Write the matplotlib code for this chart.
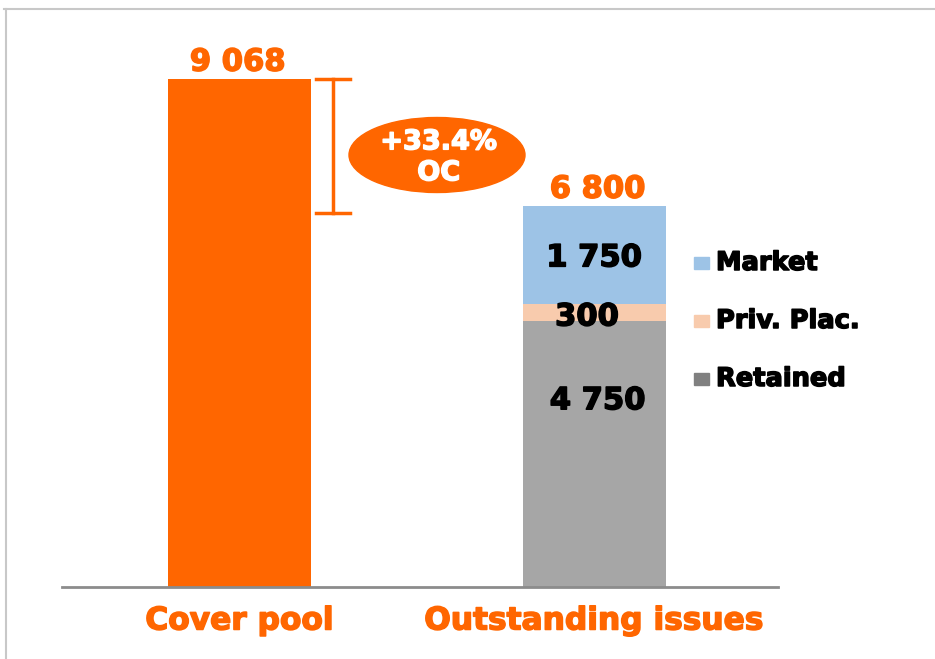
import matplotlib.pyplot as plt
import matplotlib.patheffects as pe
from matplotlib.patches import Ellipse, Rectangle
from matplotlib.lines import Line2D

plt.rcParams['font.family'] = ['DejaVu Sans']

# data
categories = ['Cover pool', 'Outstanding issues']
cover_pool = 9068
segments = ['Retained', 'Priv. Plac.', 'Market']
segment_values = [4750, 300, 1750]
oc_label = '+33.4%\nOC'

orange = '#FF6600'
seg_colors = ['#A6A6A6', '#F8CBAD', '#9DC3E6']
legend_colors = ['#808080', '#F8CBAD', '#9DC3E6']

W, H = 935, 659
fig = plt.figure(figsize=(W / 100, H / 100), dpi=100)


def heavy(color):
    # Verdana bold looks heavier than DejaVu bold, so thicken the glyphs a bit
    return [pe.withStroke(linewidth=1.1, foreground=color)]


# axes placed in pixels: bottom line at y=587, x from 62 to 778
px_per_unit = (587 - 79) / cover_pool
ax_top = 40
ax = fig.add_axes([62 / W, (H - 587) / H, (778 - 62) / W, (587 - ax_top) / H])
ax.set_ylim(0, (587 - ax_top) / px_per_unit)
spacing = 354.5
ax.set_xlim(-177.5 / spacing, (716 - 177.5) / spacing)
bw = 143 / spacing

outstanding = sum(segment_values)

ax.bar(0, cover_pool, width=bw, color=orange, zorder=2)
bottom = 0
for v, c in zip(segment_values, seg_colors):
    ax.bar(1, v, width=bw, bottom=bottom, color=c, zorder=2)
    bottom += v

for s in ['top', 'right', 'left']:
    ax.spines[s].set_visible(False)
ax.spines['bottom'].set_color('#8C8C8C')
ax.spines['bottom'].set_linewidth(2)
ax.set_xticks([])
ax.set_yticks([])


def fmt(v):
    return f'{v:,}'.replace(',', ' ')


# value labels
ax.text(-0.005, cover_pool + 300, fmt(cover_pool), ha='center', va='center',
        color=orange, fontsize=22, fontweight='bold', path_effects=heavy(orange))
ax.text(1.01, outstanding + 300, fmt(outstanding), ha='center', va='center',
        color=orange, fontsize=22, fontweight='bold', path_effects=heavy(orange))

ax.text(1.0, segment_values[0] + segment_values[1] + segment_values[2] / 2 - 50,
        fmt(segment_values[2]), ha='center', va='center', color='black',
        fontsize=22, fontweight='bold', path_effects=heavy('black'))
ax.text(0.98, segment_values[0] + segment_values[1] / 2 - 80, fmt(segment_values[1]),
        ha='center', va='center', color='black', fontsize=22, fontweight='bold',
        path_effects=heavy('black'))
ax.text(1.01, segment_values[0] * 0.70, fmt(segment_values[0]), ha='center',
        va='center', color='black', fontsize=22, fontweight='bold',
        path_effects=heavy('black'))

# bracket showing overcollateralisation
bx = (333 - 62 - 177.5) / spacing
cap = 17 / spacing
ax.plot([bx, bx], [outstanding - 130, cover_pool], color=orange, lw=2.5, zorder=3)
for yv in [outstanding - 130, cover_pool]:
    ax.plot([bx - cap, bx + cap], [yv, yv], color=orange, lw=2.5, zorder=3)

ecx = (437 - 62 - 177.5) / spacing
ecy = (587 - 155) / px_per_unit
ax.add_patch(Ellipse((ecx, ecy), 176 / spacing, 75 / px_per_unit,
                     color=orange, zorder=3, clip_on=False))
ax.text(ecx + 0.005, ecy - 50, oc_label, ha='center', va='center', color='white',
        fontsize=19.5, fontweight='bold', linespacing=1.25, zorder=4,
        path_effects=heavy('white'))

# category labels
for i, cat in enumerate(categories):
    ax.text(i, -(621 - 587) / px_per_unit, cat, ha='center', va='center',
            color=orange, fontsize=22.5, fontweight='bold',
            path_effects=heavy(orange))

# legend drawn by hand in pixel coordinates
legend_y = [379, 321, 263]
for name, c, y in zip(segments, legend_colors, legend_y):
    fig.patches.append(Rectangle((694 / W, (H - y - 6) / H), 15 / W, 12 / H,
                                 color=c, transform=fig.transFigure))
    fig.text(716 / W, (H - y) / H, name, ha='left', va='center',
             fontsize=18.5, fontweight='bold', color='black',
             path_effects=heavy('black'))

# light frame around the chart
fig.lines.append(Line2D([4 / W, 1], [(H - 9) / H, (H - 9) / H],
                        color='#C8C8C8', lw=1.5, transform=fig.transFigure))
fig.lines.append(Line2D([6 / W, 6 / W], [0, (H - 9) / H],
                        color='#C8C8C8', lw=1.5, transform=fig.transFigure))

fig.savefig('out.png', dpi=100)
